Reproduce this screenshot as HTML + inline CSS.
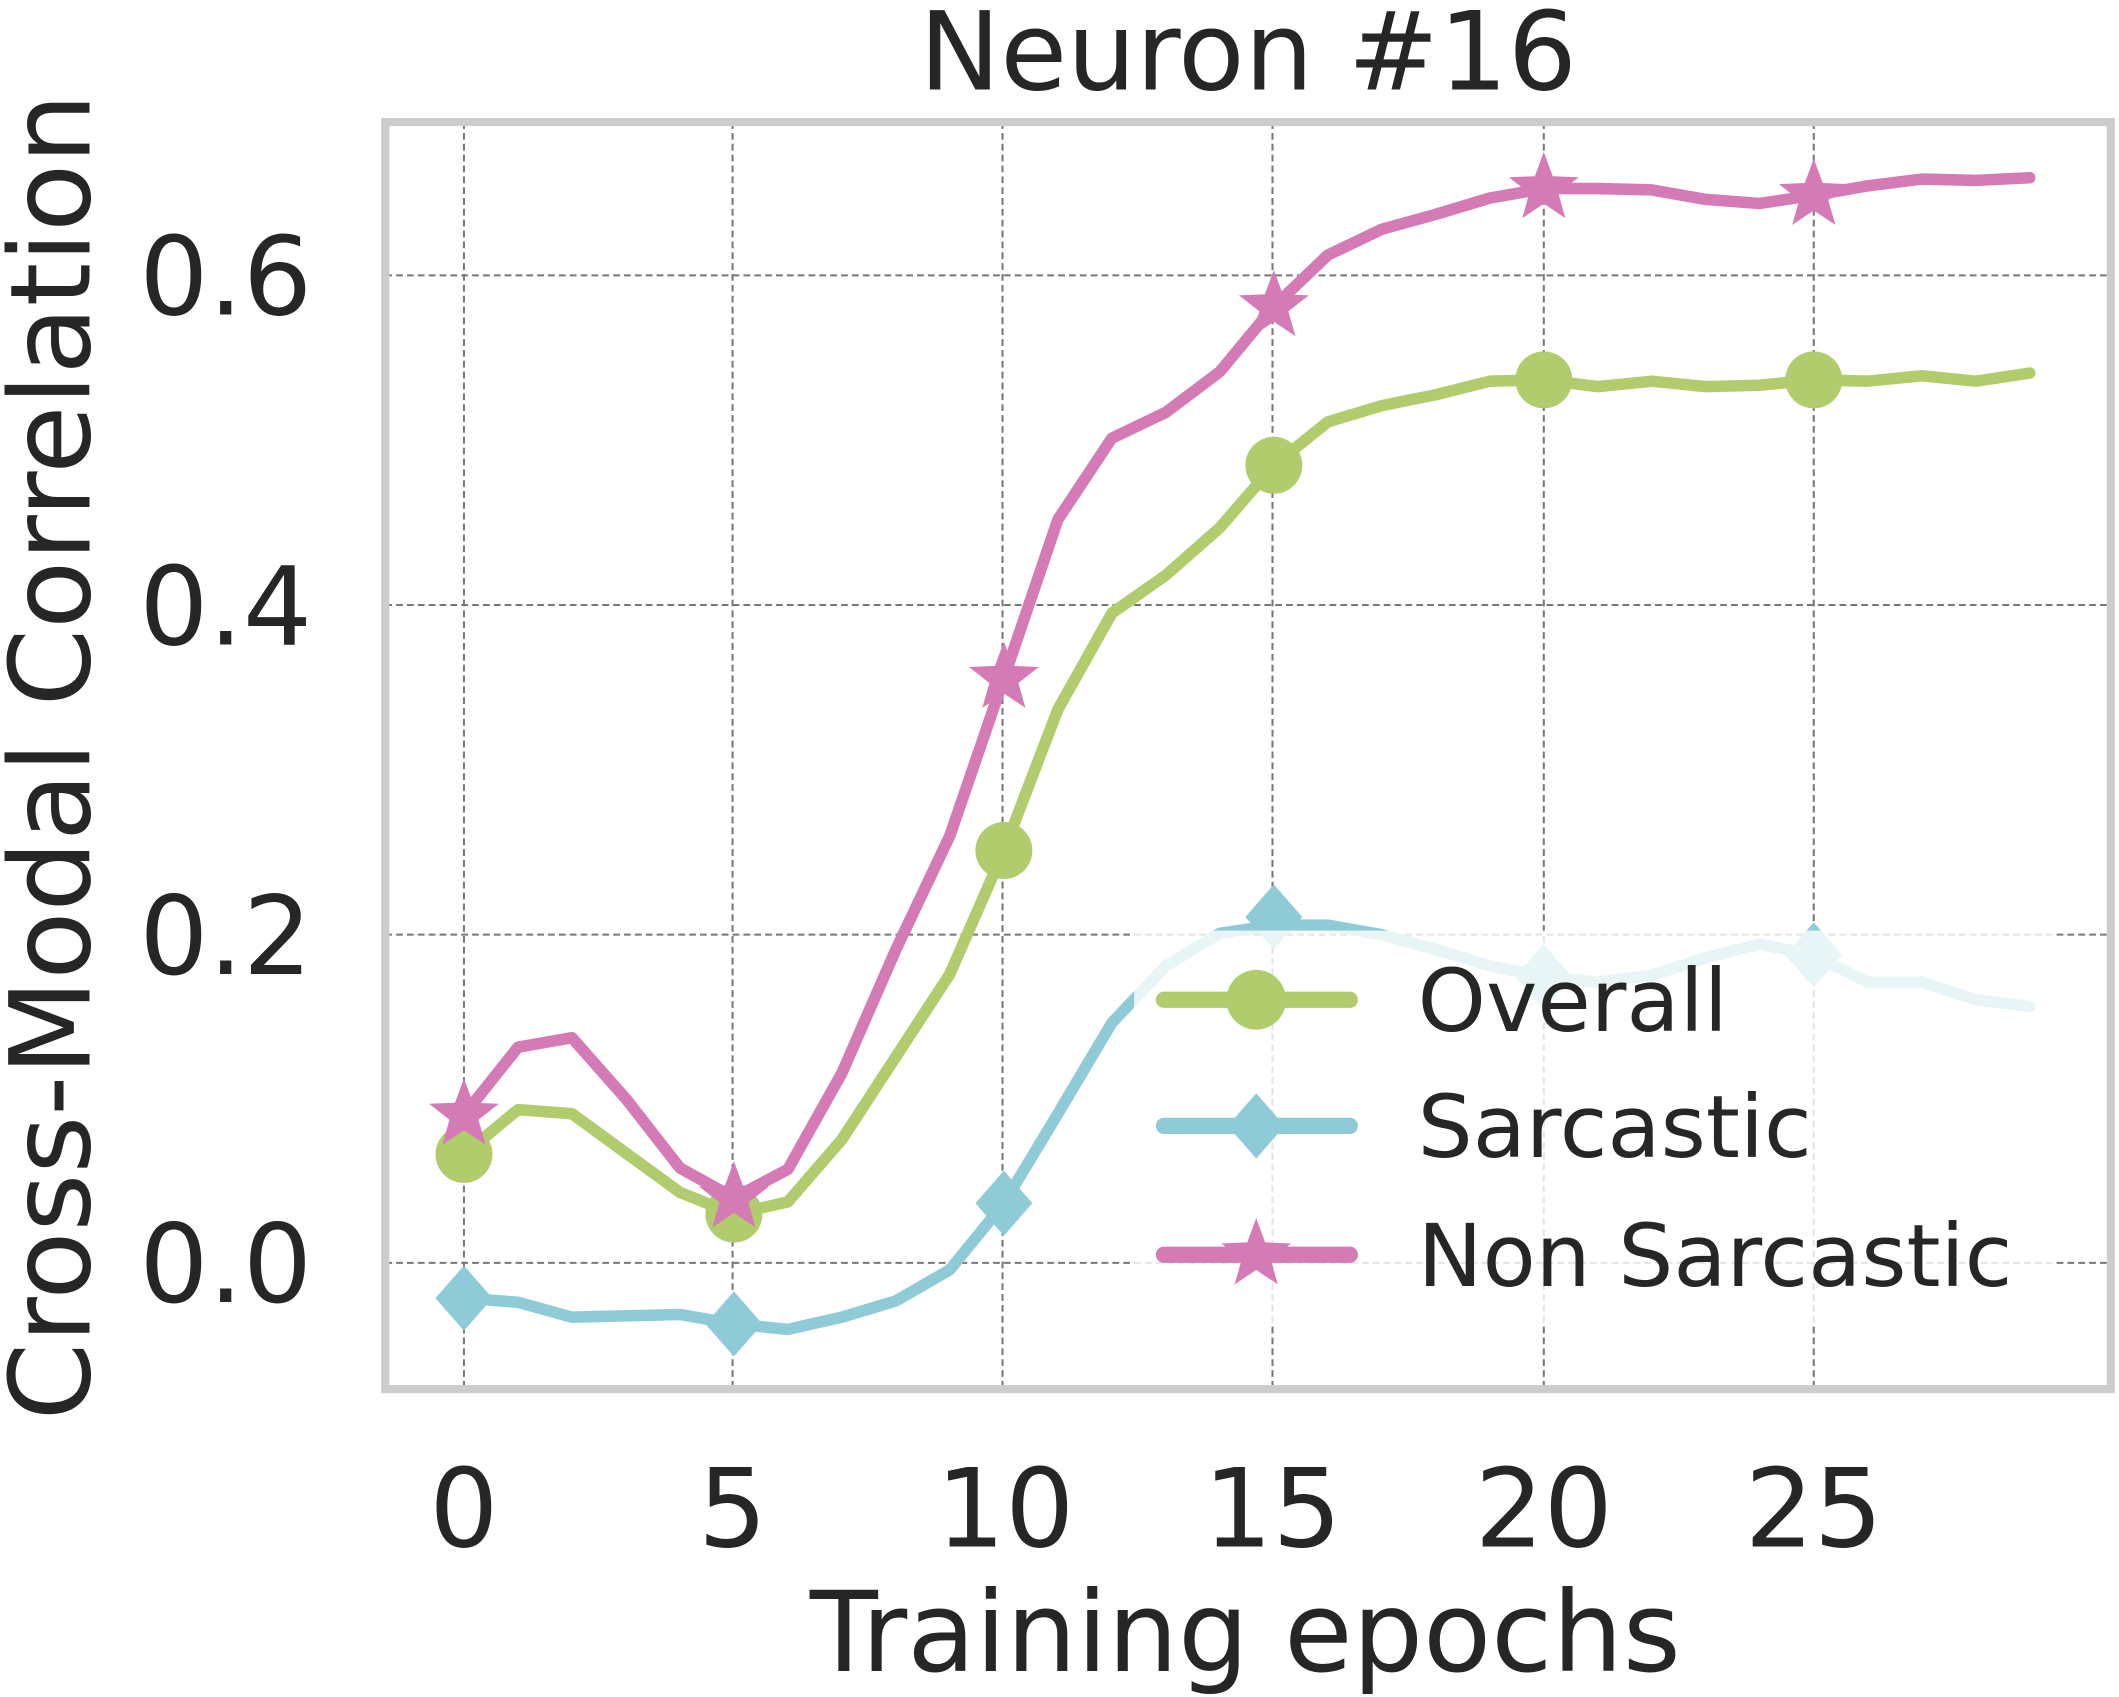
<!DOCTYPE html>
<html><head><meta charset="utf-8"><style>
html,body{margin:0;padding:0;background:#fff;}
svg{display:block;}
text{font-family:"DejaVu Sans","Liberation Sans",sans-serif;fill:#262626;}
</style></head><body>
<svg width="2119" height="1697" viewBox="0 0 1562 1251" preserveAspectRatio="none" xmlns="http://www.w3.org/2000/svg">
<defs>
<path id="star" d="M0,-27 L6.6,-9.1 L25.7,-8.3 L10.7,3.5 L15.9,21.8 L0,11.2 L-15.9,21.8 L-10.7,3.5 L-25.7,-8.3 L-6.6,-9.1 Z"/>
<path id="dia" d="M0,-24 L21,0 L0,24 L-21,0 Z"/>
</defs>
<rect x="0" y="0" width="1562" height="1251" fill="#fff"/>
<g stroke="#777" stroke-width="1.5" stroke-dasharray="5,3">
<line x1="342" y1="90" x2="342" y2="1024"/><line x1="540" y1="90" x2="540" y2="1024"/>
<line x1="739" y1="90" x2="739" y2="1024"/><line x1="938" y1="90" x2="938" y2="1024"/>
<line x1="1138" y1="90" x2="1138" y2="1024"/><line x1="1337" y1="90" x2="1337" y2="1024"/>
<line x1="284" y1="931" x2="1556" y2="931"/><line x1="284" y1="689" x2="1556" y2="689"/>
<line x1="284" y1="446" x2="1556" y2="446"/><line x1="284" y1="203" x2="1556" y2="203"/>
</g>
<g fill="none" stroke-width="8.5" stroke-linejoin="round" stroke-linecap="round">
<polyline stroke="#b0cc6c" points="342,851 381.8,818 421.6,821 461.4,850 501.2,879 541,895 580.8,886 620.6,840 660.4,779 700.2,718 740,627 779.8,523 819.6,452 859.4,424 899.2,389 939,343 978.8,311 1018.6,299 1058.4,291 1098.2,281 1138,280 1177.8,285 1217.6,281 1257.4,285 1297.2,284 1337,280 1376.8,281 1416.6,277 1456.4,281 1496.2,275"/>
<polyline stroke="#8ecbd6" points="342,957 381.8,960 421.6,971 461.4,970 501.2,969 541,976 580.8,980 620.6,971 660.4,959 700.2,936 740,887 779.8,821 819.6,754 859.4,712 899.2,688 939,682 978.8,682 1018.6,689 1058.4,700 1098.2,712 1138,720 1177.8,724 1217.6,719 1257.4,706 1297.2,696 1337,704 1376.8,724 1416.6,724 1456.4,737 1496.2,742"/>
<polyline stroke="#d47ab4" points="342,822 381.8,772 421.6,765 461.4,810 501.2,861 541,883 580.8,862 620.6,791 660.4,700 700.2,616 740,500 779.8,383 819.6,323 859.4,304 899.2,274 939,226 978.8,188 1018.6,169 1058.4,158 1098.2,146 1138,139 1177.8,139 1217.6,140 1257.4,147 1297.2,150 1337,144 1376.8,137 1416.6,132 1456.4,133 1496.2,131"/>
</g>
<g fill="#b0cc6c"><circle cx="342" cy="851" r="21"/><circle cx="541" cy="895" r="21"/><circle cx="740" cy="627" r="21"/><circle cx="939" cy="343" r="21"/><circle cx="1138" cy="280" r="21"/><circle cx="1337" cy="280" r="21"/></g>
<g fill="#8ecbd6"><use href="#dia" x="342" y="957"/><use href="#dia" x="541" y="976"/><use href="#dia" x="740" y="887"/><use href="#dia" x="939" y="676"/><use href="#dia" x="1138" y="720"/><use href="#dia" x="1337" y="704"/></g>
<g fill="#d47ab4"><use href="#star" x="342" y="822"/><use href="#star" x="541" y="883"/><use href="#star" x="740" y="500"/><use href="#star" x="939" y="226"/><use href="#star" x="1138" y="139"/><use href="#star" x="1337" y="144"/></g>
<rect x="836" y="686" width="678" height="290" fill="#fff" fill-opacity="0.8"/>
<g stroke-width="12" stroke-linecap="round">
<line x1="858" y1="737" x2="995" y2="737" stroke="#b0cc6c"/>
<line x1="858" y1="830" x2="995" y2="830" stroke="#8ecbd6"/>
<line x1="858" y1="925" x2="995" y2="925" stroke="#d47ab4"/>
</g>
<circle cx="926" cy="737" r="22" fill="#b0cc6c"/>
<use href="#dia" x="926" y="830" fill="#8ecbd6"/>
<use href="#star" x="926" y="925" fill="#d47ab4"/>
<g font-size="64"><text x="1045" y="760">Overall</text><text x="1045" y="853">Sarcastic</text><text x="1045" y="948">Non Sarcastic</text></g>
<rect x="284" y="90" width="1272" height="934" fill="none" stroke="#cccccc" stroke-width="6"/>
<g font-size="80" text-anchor="end"><text x="230" y="960">0.0</text><text x="230" y="718">0.2</text><text x="230" y="475">0.4</text><text x="230" y="232">0.6</text></g>
<g font-size="80" text-anchor="middle"><text x="342" y="1140">0</text><text x="540" y="1140">5</text><text x="741" y="1140">10</text><text x="938" y="1140">15</text><text x="1138" y="1140">20</text><text x="1337" y="1140">25</text></g>
<text x="918" y="1232" font-size="82" text-anchor="middle">Training epochs</text>
<text x="920" y="66" font-size="80" text-anchor="middle">Neuron #16</text>
<text transform="translate(66,558) rotate(-90)" font-size="82" text-anchor="middle">Cross-Modal Correlation</text>
</svg>
</body></html>
